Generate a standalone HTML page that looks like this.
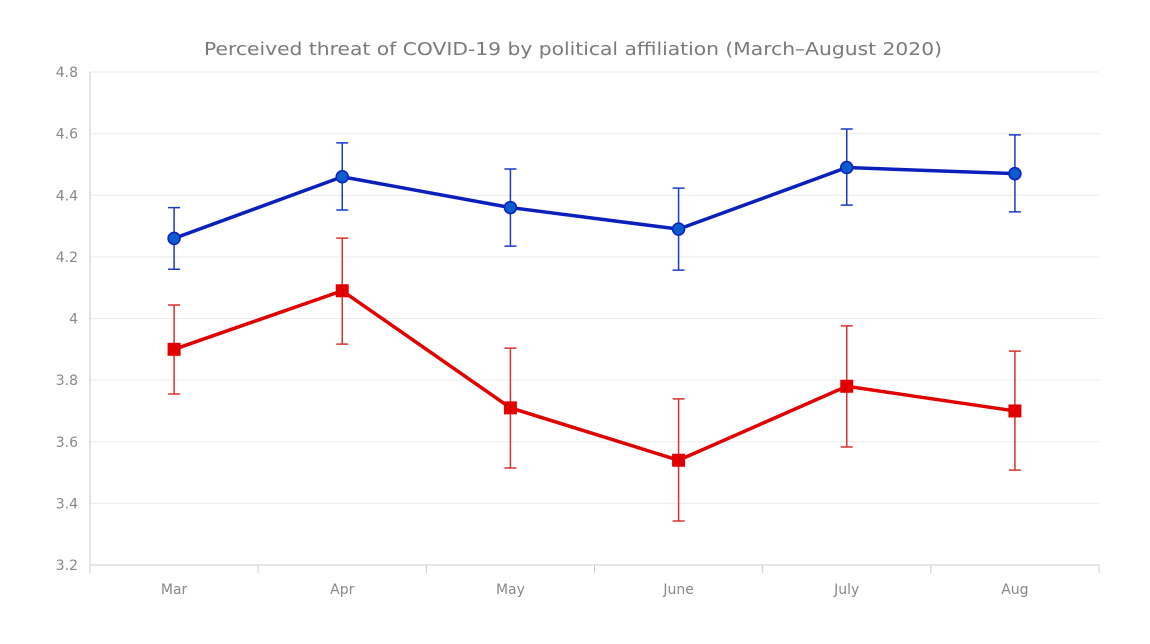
<!DOCTYPE html>
<html><head><meta charset="utf-8"><style>
body{margin:0;background:#fff;font-family:"DejaVu Sans",sans-serif}
svg text{font-family:"DejaVu Sans",sans-serif}
</style></head><body>
<svg id="c" width="1150" height="640">
<text x="573" y="55" text-anchor="middle" font-size="18" fill="#7a7a7a" textLength="738" lengthAdjust="spacingAndGlyphs">Perceived threat of COVID-19 by political affiliation (March–August 2020)</text>
</svg>
<script>
const categories=["Mar","Apr","May","June","July","Aug"];
const demMean=[4.26,4.46,4.36,4.29,4.49,4.47];
const demLow=[4.16,4.352,4.235,4.157,4.368,4.346];
const demHigh=[4.36,4.57,4.485,4.423,4.615,4.596];
const repMean=[3.90,4.09,3.71,3.54,3.78,3.70];
const repLow=[3.755,3.917,3.515,3.343,3.583,3.508];
const repHigh=[4.044,4.261,3.904,3.739,3.976,3.894];
const yTicks=[3.2,3.4,3.6,3.8,4,4.2,4.4,4.6,4.8];
const svg=document.getElementById('c');
const NS='http://www.w3.org/2000/svg';
const L=90,R=1099,T=72,B=565,ymin=3.2,ymax=4.8;
const bw=(R-L)/categories.length;
const x=i=>L+bw*(i+0.5);
const y=v=>B-(v-ymin)/(ymax-ymin)*(B-T);
function mk(tag,a,p){const e=document.createElementNS(NS,tag);for(const k in a)e.setAttribute(k,a[k]);(p||svg).appendChild(e);return e;}
const g=mk('g',{});


yTicks.forEach(t=>{
 const l=mk('line',{x1:L,x2:R,y1:y(t),y2:y(t),stroke:t===ymin?'#ccc':'#ebebeb','stroke-width':1},g);
 
 
 const tx=mk('text',{x:78,y:y(t)+5,'text-anchor':'end','font-size':14,fill:'#888'},g);
 tx.textContent=String(t);
 
 
});
mk('line',{x1:L,x2:L,y1:T,y2:B,stroke:'#ccc'},g);
const gx=mk('g',{});


for(let i=0;i<=categories.length;i++){mk('line',{x1:L+bw*i,x2:L+bw*i,y1:B,y2:B+8,stroke:'#ccc'},gx);}
categories.forEach((c,i)=>{
 const tx=mk('text',{x:x(i),y:594,'text-anchor':'middle','font-size':14,fill:'#888'},gx);
 tx.textContent=c;
 
 
});
function series(name,mean,lo,hi,lc,ec,square,fill){
 const s=mk('g',{});
 
 
 mk('polyline',{points:mean.map((v,i)=>x(i)+','+y(v)).join(' '),fill:'none',stroke:lc,'stroke-width':3.5},s);
 mean.forEach((v,i)=>{
  const e=mk('path',{d:`M${x(i)},${y(lo[i])}V${y(hi[i])}M${x(i)-6},${y(lo[i])}h12M${x(i)-6},${y(hi[i])}h12`,stroke:ec,'stroke-width':1.5,fill:'none'},s);
  
  
  let m;
  if(square)m=mk('rect',{x:x(i)-6.5,y:y(v)-6.5,width:13,height:13,fill:fill},s);
  else m=mk('circle',{cx:x(i),cy:y(v),r:6,fill:fill,stroke:lc,'stroke-width':1.5},s);
  
  
 });
}
series('democrat-series',demMean,demLow,demHigh,'#0a20bd','#1a3ac8',false,'#0a5ccc');
series('republican-series',repMean,repLow,repHigh,'#e00000','#d83030',true,'#e00000');
</script>
</body></html>
